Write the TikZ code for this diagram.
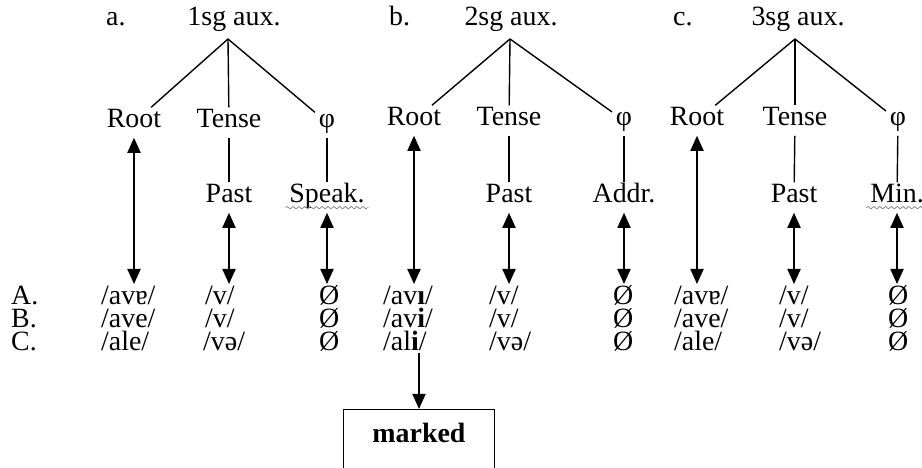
\documentclass[tikz,border=0pt]{standalone}
\usepackage{fontspec}
\setmainfont{Liberation Serif}
\usetikzlibrary{arrows.meta,decorations.pathmorphing}

\begin{document}
\begin{tikzpicture}[x=0.43pt, y=-0.43pt, font=\fontsize{12}{14}\selectfont,
  lbl/.style = {inner sep=1.5pt, text height=0.72em, text depth=0.25em, anchor=base},
  cell/.style = {inner sep=0.3pt, text height=0.7em, text depth=0.05em, anchor=base west},
  branch/.style = {line width=0.6pt},
  link/.style = {line width=0.85pt, shorten >=1.5pt, {Triangle[length=6.5pt,width=5.6pt]}-{Triangle[length=6.5pt,width=5.6pt]}},
  down/.style = {line width=0.85pt, -{Triangle[length=6.5pt,width=5.6pt]}},
  wavy/.style = {gray, line width=0.3pt, decorate, decoration={snake, amplitude=0.5pt, segment length=2.5pt}},
  box/.style = {draw, line width=0.5pt, anchor=north, minimum width=65pt, inner sep=6pt, text height=8pt, text depth=30pt}]
\useasboundingbox (0,0) rectangle (922,468);

% headers
\node[cell] (la) at (105,26) {a.};
\node[lbl] (top1) at (234,26) {1sg aux.};
\node[cell] (lb) at (388,26) {b.};
\node[lbl] (top2) at (511,26) {2sg aux.};
\node[cell] (lc) at (672,26) {c.};
\node[lbl] (top3) at (798,26) {3sg aux.};
\coordinate (apex1) at (228,39);
\coordinate (apex2) at (510,39);
\coordinate (apex3) at (795,39);

% a.
\node[lbl] (root1) at (134,128) {Root};
\node[lbl] (tense1) at (229,128) {Tense};
\node[lbl] (phi1) at (327,128) {φ};
\node[lbl] (past1) at (229,203) {Past};
\node[lbl] (spk) at (327,203) {Speak.};

% b.
\node[lbl] (root2) at (414,126) {Root};
\node[lbl] (tense2) at (509,126) {Tense};
\node[lbl] (phi2) at (624,126) {φ};
\node[lbl] (past2) at (509,203) {Past};
\node[lbl] (addr) at (624,203) {Addr.};

% c.
\node[lbl] (root3) at (697,126) {Root};
\node[lbl] (tense3) at (795,126) {Tense};
\node[lbl] (phi3) at (898,126) {φ};
\node[lbl] (past3) at (794,203) {Past};
\node[lbl] (mnr) at (897,203) {Min.};

% rows
\node[cell] (A0) at (10,305) {A.};
\node[cell] (A1) at (100,305) {/avɐ/};
\node[cell] (A2) at (204,305) {/v/};
\node[cell] (A3) at (318,305) {Ø};
\node[cell] (A4) at (382,305) {/av\textbf{ı}/};
\node[cell] (A5) at (488,305) {/v/};
\node[cell] (A6) at (612,305) {Ø};
\node[cell] (A7) at (673,305) {/avɐ/};
\node[cell] (A8) at (778,305) {/v/};
\node[cell] (A9) at (887,305) {Ø};

\node[cell] (B0) at (10,328) {B.};
\node[cell] (B1) at (100,328) {/ave/};
\node[cell] (B2) at (204,328) {/v/};
\node[cell] (B3) at (318,328) {Ø};
\node[cell] (B4) at (382,328) {/av\textbf{i}/};
\node[cell] (B5) at (488,328) {/v/};
\node[cell] (B6) at (612,328) {Ø};
\node[cell] (B7) at (673,328) {/ave/};
\node[cell] (B8) at (778,328) {/v/};
\node[cell] (B9) at (887,328) {Ø};

\node[cell] (C0) at (10,351) {C.};
\node[cell] (C1) at (100,351) {/ale/};
\node[cell] (C2) at (202,351) {/və/};
\node[cell] (C3) at (318,351) {Ø};
\node[cell] (C4) at (382,351) {/al\textbf{i}/};
\node[cell] (C5) at (488,351) {/və/};
\node[cell] (C6) at (612,351) {Ø};
\node[cell] (C7) at (673,351) {/ale/};
\node[cell] (C8) at (778,351) {/və/};
\node[cell] (C9) at (887,351) {Ø};

\node[box] (mk) at (419,409) {\textbf{marked}};

% tree lines
\draw[branch] (apex1) -- (root1);
\draw[branch] (apex1) -- (tense1);
\draw[branch] (apex1) -- (phi1);
\draw[branch] (tense1) -- (past1);
\draw[branch] (phi1) -- (spk);
\draw[branch] (apex2) -- (root2);
\draw[branch] (apex2) -- (tense2);
\draw[branch] (apex2) -- (phi2);
\draw[branch] (tense2) -- (past2);
\draw[branch] (phi2) -- (addr);
\draw[branch] (apex3) -- (root3);
\draw[branch] (apex3) -- (tense3);
\draw[branch] (apex3) -- (phi3);
\draw[branch] (tense3) -- (past3);
\draw[branch] (phi3) -- (mnr);

% exponence
\draw[link] (root1) -- (root1 |- A1.north);
\draw[link] (past1) -- (past1 |- A2.north);
\draw[link] (spk) -- (spk |- A3.north);
\draw[link] (root2) -- (root2 |- A4.north);
\draw[link] (past2) -- (past2 |- A5.north);
\draw[link] (addr) -- (addr |- A6.north);
\draw[link] (root3) -- (root3 |- A7.north);
\draw[link] (past3) -- (past3 |- A8.north);
\draw[link] (mnr) -- (mnr |- A9.north);
\draw[down] (mk.north |- C4.south) -- (mk);

% squiggles
\draw[wavy] ([yshift=-2pt]spk.base west) -- ([yshift=-2pt]spk.base east);
\draw[wavy] ([yshift=-2pt]mnr.base west) -- ([yshift=-2pt]mnr.base east);
\end{tikzpicture}
\end{document}
